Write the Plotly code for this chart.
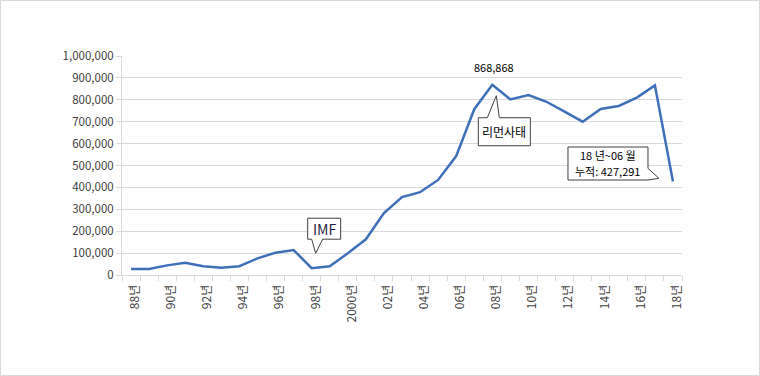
import plotly.graph_objects as go

# ---- data ----
year_labels = ["88년", "89년", "90년", "91년", "92년", "93년", "94년", "95년", "96년", "97년",
               "98년", "99년", "2000년", "01년", "02년", "03년", "04년", "05년", "06년", "07년",
               "08년", "09년", "10년", "11년", "12년", "13년", "14년", "15년", "16년", "17년", "18년"]
values = [27000, 27000, 44000, 56000, 40000, 33000, 40000, 76000, 102000, 114000,
          31000, 40000, 99000, 163000, 283000, 356000, 378000, 434000, 543000, 757000,
          868868, 802000, 822000, 791000, 746000, 700000, 758000, 772000, 810000, 866000, 427291]
y_ticks = [0, 100000, 200000, 300000, 400000, 500000, 600000, 700000, 800000, 900000, 1000000]
y_tick_text = ["0", "100,000", "200,000", "300,000", "400,000", "500,000", "600,000",
               "700,000", "800,000", "900,000", "1,000,000"]

W, H = 760, 376
L, R, T, B = 122, 78, 56, 101
PW, PH = W - L - R, H - T - B

FONT = "Malgun Gothic, Noto Sans CJK KR, sans-serif"
GRID = "#d9d9d9"
LINE = "#3E70BA"

xs = list(range(len(values)))

fig = go.Figure()
fig.add_trace(go.Scatter(x=xs, y=values, mode="lines",
                         line=dict(color=LINE, width=2.5), hoverinfo="skip",
                         showlegend=False))

i_imf = year_labels.index("98년")
i_lehman = year_labels.index("08년")
i_last = len(values) - 1

def px_to_paper_x(px):
    return (px - L) / PW

def px_to_paper_y(py):
    return (H - B - py) / PH

shapes = []
# outer border of the chart area
shapes.append(dict(type="rect", xref="paper", yref="paper",
                   x0=px_to_paper_x(0.5), x1=px_to_paper_x(W - 0.5),
                   y0=px_to_paper_y(H - 0.5), y1=px_to_paper_y(0.5),
                   line=dict(color=GRID, width=1), fillcolor="rgba(0,0,0,0)", layer="below"))

def callout(xi, yv, path):
    return dict(type="path", xref="x", yref="y", xsizemode="pixel", ysizemode="pixel",
                xanchor=xi, yanchor=yv, path=path,
                line=dict(color="#404040", width=1), fillcolor="white", layer="above")

shapes.append(callout(i_imf, values[i_imf],
                      "M -4,29 L 0,29 L 4,15 L 11,29 L 29,29 L 29,50 L -4,50 Z"))
shapes.append(callout(i_lehman, values[i_lehman],
                      "M -14,-33 L -5,-33 L 4,-11 L 7,-33 L 38,-33 L 38,-61 L -14,-61 Z"))
shapes.append(callout(i_last, values[i_last],
                      "M -105,1.4 L -25,1.4 L -14,3.1 L -25,13.1 L -25,34.4 L -105,34.4 Z"))

annotations = [
    dict(x=i_lehman, y=values[i_lehman], xref="x", yref="y", text=f"{values[i_lehman]:,}",
         showarrow=False, xshift=2, yshift=18, font=dict(family=FONT, size=11, color="#000000")),
    dict(x=i_lehman, y=values[i_lehman], xref="x", yref="y", text="리먼사태",
         showarrow=False, xshift=12, yshift=-47, font=dict(family=FONT, size=12, color="#000000")),
    dict(x=i_imf, y=values[i_imf], xref="x", yref="y", text="IMF",
         showarrow=False, xshift=12.5, yshift=39.5, font=dict(family=FONT, size=14, color="#1f1f3f")),
    dict(x=i_last, y=values[i_last], xref="x", yref="y", text="18 년~06 월",
         showarrow=False, xshift=-65, yshift=26.4,
         font=dict(family=FONT, size=11, color="#000000")),
    dict(x=i_last, y=values[i_last], xref="x", yref="y", text="누적: " + f"{values[i_last]:,}",
         showarrow=False, xshift=-65, yshift=10.4,
         font=dict(family=FONT, size=11, color="#000000")),
]

fig.update_layout(
    width=W, height=H,
    margin=dict(l=L, r=R, t=T, b=B, pad=0),
    paper_bgcolor="white", plot_bgcolor="white",
    font=dict(family=FONT, size=11, color="#595959"),
    shapes=shapes, annotations=annotations,
    xaxis=dict(range=[-0.5, len(values) - 0.5], tickmode="array",
               tickvals=xs[::2], ticktext=year_labels[::2], tickangle=-90,
               ticks="", showgrid=False, zeroline=False,
               showline=True, linecolor=GRID, linewidth=1,
               ticklabelshift=4, ticklabelstandoff=4,
               tickfont=dict(family=FONT, size=12, color="#404040"),
               minor=dict(tickmode="array", tickvals=[i - 0.5 for i in range(len(values) + 1)],
                          ticks="outside", ticklen=5, tickcolor=GRID, tickwidth=1, showgrid=False)),
    yaxis=dict(range=[0, 1000000], tickmode="array", tickvals=y_ticks, ticktext=y_tick_text,
               ticks="outside", ticklen=5, tickcolor=GRID,
               showgrid=True, gridcolor=GRID, gridwidth=1, zeroline=False,
               showline=True, linecolor=GRID, linewidth=1,
               tickfont=dict(family=FONT, size=11.5, color="#404040")),
)

fig.write_html("out.html", config={"displayModeBar": False},
               post_script="document.body.style.margin='0';document.body.style.padding='0';")
